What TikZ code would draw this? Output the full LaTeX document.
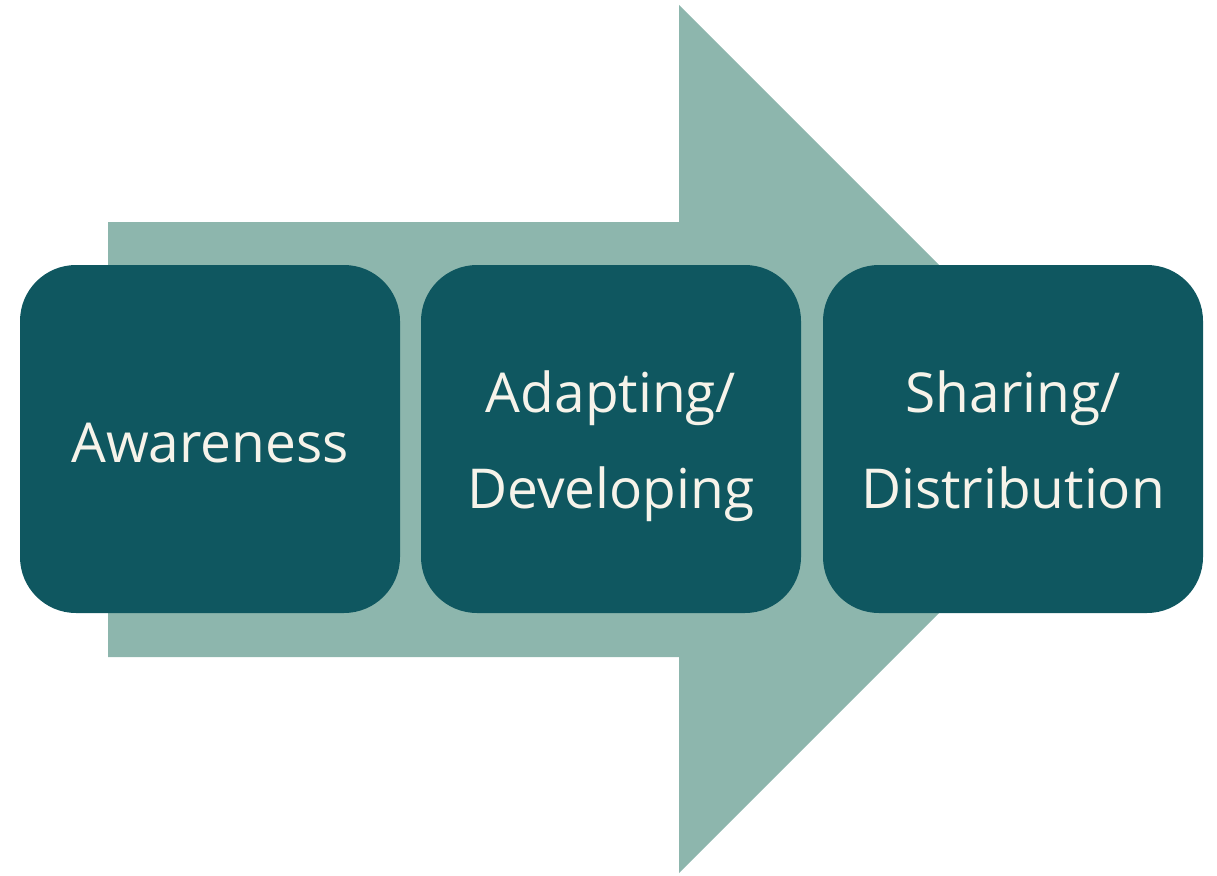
\documentclass[tikz,border=0pt]{standalone}
\usepackage{fontspec}
\setmainfont{Open Sans}
\definecolor{arrowc}{HTML}{8DB6AD}
\definecolor{boxc}{HTML}{0F5760}
\definecolor{txtc}{HTML}{F6F3EA}
\tikzset{
  stagebox/.style={fill=boxc, rounded corners=56pt, minimum width=380pt, minimum height=348pt, inner sep=0pt},
  stagetext/.style={anchor=base, inner sep=0pt, text=txtc, font=\fontsize{55}{96}\selectfont}
}
\begin{document}
\begin{tikzpicture}[x=1pt,y=-1pt]
\useasboundingbox (0,0) rectangle (1217,875);
\fill[arrowc] (108,222) -- (679,222) -- (679,5) -- (1113,439) -- (679,873) -- (679,657) -- (108,657) -- cycle;
\node[stagebox] (s1) at (210,439) {};
\node[stagebox] (s2) at (611,439) {};
\node[stagebox] (s3) at (1013,439) {};
\node[stagetext] (t1) at (210,462) {Awareness};
\node[stagetext] (t2a) at (611,412) {Adapting/};
\node[stagetext] (t2b) at (611,508) {Developing};
\node[stagetext] (t3a) at (1013,412) {Sharing/};
\node[stagetext] (t3b) at (1013,508) {Distribution};
\end{tikzpicture}
\end{document}
